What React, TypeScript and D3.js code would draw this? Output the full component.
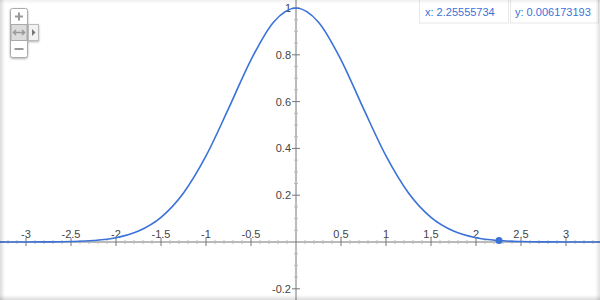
import React from "react";
import * as d3 from "d3";

const xs = [-3.4, -3.2, -3, -2.75, -2.5, -2.25, -2, -1.75, -1.5, -1.25, -1, -0.75, -0.5, -0.25, 0, 0.25, 0.5, 0.75, 1, 1.25, 1.5, 1.75, 2, 2.25, 2.5, 2.75, 3, 3.2, 3.4];
const ys = [0.00001, 0.00004, 0.0001, 0.0005, 0.0019, 0.0063, 0.0183, 0.0468, 0.1054, 0.2096, 0.3679, 0.5698, 0.7788, 0.9394, 1, 0.9394, 0.7788, 0.5698, 0.3679, 0.2096, 0.1054, 0.0468, 0.0183, 0.0063, 0.0019, 0.0005, 0.0001, 0.00004, 0.00001];
const xTicks = [-3, -2.5, -2, -1.5, -1, -0.5, 0.5, 1, 1.5, 2, 2.5, 3];
const yTicks = [-0.2, 0.2, 0.4, 0.6, 0.8, 1];
const marker = { x: 2.25555734, y: 0.006173193 };
const readX = "x: 2.25555734";
const readY = "y: 0.006173193";

const W = 600, H = 300;
const BLUE = "#3a72d8";
const AXIS = "#777";
const FONT = "'Liberation Sans', Arial, sans-serif";

export default function App() {
  const x = d3.scaleLinear().domain([-296 / 90, 304 / 90]).range([0, W]);
  const y = d3.scaleLinear().domain([242 / 234, -58 / 234]).range([0, H]);
  const pts = xs.map((v, i) => [v, ys[i]] as [number, number]);
  const line = d3.line<[number, number]>().x(d => x(d[0])).y(d => y(d[1])).curve(d3.curveMonotoneX);
  const x0 = x(0), y0 = y(0);
  const minorX = d3.range(-33, 34).map(i => i / 10).filter(v => Math.abs(Math.round(v * 2) - v * 2) > 1e-6);
  const minorY = d3.range(-5, 21).map(i => i / 20).filter(v => Math.abs(Math.round(v * 5) - v * 5) > 1e-6);

  return (
    <svg width={W} height={H} style={{ position: "absolute", left: 0, top: 0, fontFamily: FONT }}>
      <defs>
        <linearGradient id="gl" x1="0" x2="1" y1="0" y2="0"><stop offset="0" stopColor="#000" stopOpacity="0.14" /><stop offset="1" stopColor="#000" stopOpacity="0" /></linearGradient>
        <linearGradient id="gr" x1="1" x2="0" y1="0" y2="0"><stop offset="0" stopColor="#000" stopOpacity="0.12" /><stop offset="1" stopColor="#000" stopOpacity="0" /></linearGradient>
        <linearGradient id="gt" x1="0" x2="0" y1="0" y2="1"><stop offset="0" stopColor="#000" stopOpacity="0.06" /><stop offset="1" stopColor="#000" stopOpacity="0" /></linearGradient>
        <linearGradient id="gb" x1="0" x2="0" y1="1" y2="0"><stop offset="0" stopColor="#000" stopOpacity="0.14" /><stop offset="1" stopColor="#000" stopOpacity="0" /></linearGradient>
        <filter id="sh" x="-30%" y="-30%" width="160%" height="160%"><feDropShadow dx="0" dy="1" stdDeviation="1" floodOpacity="0.3" /></filter>
      </defs>
      <rect width={W} height={H} fill="#fff" />
      {/* axes */}
      <line x1={0} x2={W} y1={y0} y2={y0} stroke={AXIS} strokeWidth={1} />
      <line x1={x0} x2={x0} y1={0} y2={H} stroke={AXIS} strokeWidth={1} />
      {minorX.map(v => <line key={"mx" + v} x1={x(v)} x2={x(v)} y1={y0 - 2} y2={y0 + 2} stroke="#bbb" />)}
      {xTicks.map(v => <line key={"tx" + v} x1={x(v)} x2={x(v)} y1={y0 - 4} y2={y0 + 4} stroke={AXIS} />)}
      {minorY.map(v => <line key={"my" + v} x1={x0 - 2} x2={x0 + 2} y1={y(v)} y2={y(v)} stroke="#bbb" />)}
      {yTicks.map(v => <line key={"ty" + v} x1={x0 - 4} x2={x0 + 4} y1={y(v)} y2={y(v)} stroke={AXIS} />)}
      {xTicks.map(v => <text key={"lx" + v} x={x(v)} y={y0 - 4} textAnchor="middle" fontSize={11} fill="#444">{String(v)}</text>)}
      {yTicks.map(v => <text key={"ly" + v} x={x0 - 5} y={y(v) + 4} textAnchor="end" fontSize={11} fill="#444">{String(v)}</text>)}
      {/* curve */}
      <path d={line(pts) || ""} fill="none" stroke={BLUE} strokeWidth={1.6} />
      <circle cx={x(marker.x)} cy={y(marker.y)} r={3.5} fill={BLUE} />
      {/* readout */}
      <rect x={419.5} y={-1} width={89} height={24} fill="#fff" stroke="#e8e8e8" />
      <rect x={510.5} y={-1} width={88} height={24} fill="#fff" stroke="#e8e8e8" />
      <text x={425} y={16} fontSize={11} fill={BLUE}>{readX}</text>
      <text x={515} y={16} fontSize={11} fill={BLUE}>{readY}</text>
      {/* controls */}
      <g filter="url(#sh)">
        <rect x={28.5} y={24.5} width={10} height={16} fill="#f2f2f2" stroke="#bbb" />
        <rect x={10.5} y={8.5} width={17} height={49} rx={2} fill="#fff" stroke="#aaa" />
      </g>
      <path d="M32,29 L35.5,32.5 L32,36 Z" fill="#777" />
      <rect x={11} y={24.5} width={16} height={16} fill="#dcdcdc" stroke="#aaa" />
      <path d="M15,16.5 H23 M19,12.5 V20.5" stroke="#999" strokeWidth={2} />
      <path d="M13.5,32.5 H24.5" stroke="#999" strokeWidth={1.5} />
      <path d="M16,30 L13.5,32.5 L16,35 M22,30 L24.5,32.5 L22,35" stroke="#999" strokeWidth={1.5} fill="none" />
      <path d="M14.5,49 H23.5" stroke="#999" strokeWidth={2} />
      {/* inner frame shadow */}
      <rect x={0} y={0} width={5} height={H} fill="url(#gl)" />
      <rect x={W - 5} y={0} width={5} height={H} fill="url(#gr)" />
      <rect x={0} y={0} width={W} height={4} fill="url(#gt)" />
      <rect x={0} y={H - 5} width={W} height={5} fill="url(#gb)" />
    </svg>
  );
}
